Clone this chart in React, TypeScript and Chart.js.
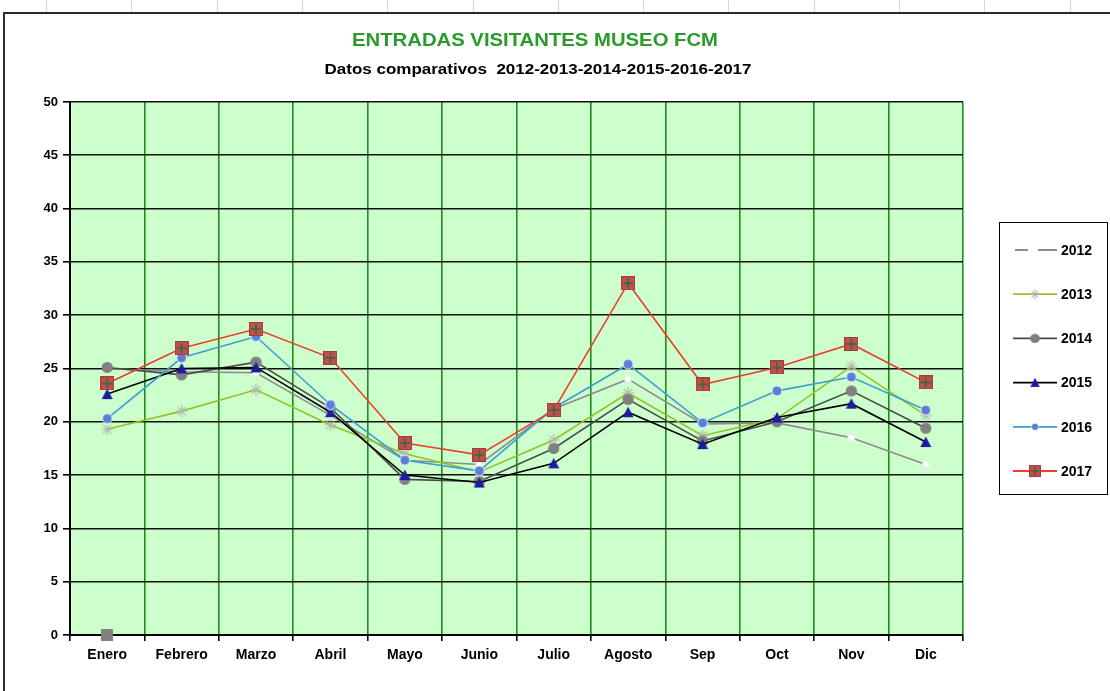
import React, { useEffect, useRef } from 'react';
import { Chart, registerables } from 'chart.js';
Chart.register(...registerables);

const months = ['Enero', 'Febrero', 'Marzo', 'Abril', 'Mayo', 'Junio', 'Julio', 'Agosto', 'Sep', 'Oct', 'Nov', 'Dic'];
const years = ['2012', '2013', '2014', '2015', '2016', '2017'];
const v2012 = [25.0, 24.7, 24.6, 20.6, 16.4, 16.0, 21.2, 24.0, 19.8, 19.9, 18.5, 16.0];
const v2013 = [19.3, 21.0, 23.0, 19.7, 17.0, 15.3, 18.3, 22.7, 18.7, 20.3, 25.2, 20.6];
const v2014 = [25.1, 24.4, 25.6, 21.3, 14.6, 14.4, 17.5, 22.1, 18.2, 20.0, 22.9, 19.4];
const v2015 = [22.6, 25.0, 25.1, 20.9, 15.0, 14.3, 16.1, 20.9, 17.9, 20.4, 21.7, 18.1];
const v2016 = [20.3, 26.0, 28.0, 21.6, 16.4, 15.4, 21.3, 25.4, 19.9, 22.9, 24.2, 21.1];
const v2017 = [23.6, 26.9, 28.7, 26.0, 18.0, 16.9, 21.1, 33.0, 23.5, 25.1, 27.3, 23.7];
const vExtra = [0, null, null, null, null, null, null, null, null, null, null, null];
const yTickValues = [0, 5, 10, 15, 20, 25, 30, 35, 40, 45, 50];

const lineColors = ['#8c8c8c', '#92c425', '#4a4a4a', '#000000', '#3a9fd0', '#e8402a'];

function mk(size: number, draw: (c: CanvasRenderingContext2D, s: number) => void) {
  const cv = document.createElement('canvas');
  cv.width = size;
  cv.height = size;
  const c = cv.getContext('2d')!;
  draw(c, size);
  return cv;
}

export default function App() {
  const ref = useRef<HTMLCanvasElement>(null);
  useEffect(() => {
    const canvas = ref.current!;
    const m2012 = mk(10, (c, s) => {
      c.beginPath(); c.arc(s / 2, s / 2, 3.5, 0, Math.PI * 2);
      c.fillStyle = '#ffffff'; c.fill();
      c.strokeStyle = '#e4e4e4'; c.lineWidth = 1; c.stroke();
    });
    const m2013 = mk(14, (c, s) => {
      c.strokeStyle = '#b4b4b4'; c.lineWidth = 1.2;
      const r = 6, h = s / 2;
      c.beginPath();
      c.moveTo(h - r, h); c.lineTo(h + r, h);
      c.moveTo(h, h - r); c.lineTo(h, h + r);
      c.moveTo(h - r * 0.7, h - r * 0.7); c.lineTo(h + r * 0.7, h + r * 0.7);
      c.moveTo(h - r * 0.7, h + r * 0.7); c.lineTo(h + r * 0.7, h - r * 0.7);
      c.stroke();
    });
    const m2014 = mk(13, (c, s) => {
      c.beginPath(); c.arc(s / 2, s / 2, 5.6, 0, Math.PI * 2);
      c.fillStyle = '#808080'; c.fill();
    });
    const m2015 = mk(12, (c, s) => {
      c.beginPath(); c.moveTo(s / 2, 0.5); c.lineTo(s - 0.5, s - 1); c.lineTo(0.5, s - 1); c.closePath();
      c.fillStyle = '#1c1ca0'; c.fill();
    });
    const m2016 = mk(12, (c, s) => {
      c.beginPath(); c.arc(s / 2, s / 2, 5, 0, Math.PI * 2);
      c.fillStyle = '#5b7fd4'; c.fill();
      c.strokeStyle = '#e8f4ff'; c.lineWidth = 1; c.stroke();
    });
    const m2017 = mk(14, (c, s) => {
      c.fillStyle = '#c0504d'; c.fillRect(0.5, 0.5, s - 1, s - 1);
      c.strokeStyle = '#a03c3a'; c.lineWidth = 1; c.strokeRect(0.5, 0.5, s - 1, s - 1);
      c.strokeStyle = '#2f6a3a'; c.lineWidth = 1.4;
      c.beginPath(); c.moveTo(s / 2, 2); c.lineTo(s / 2, s - 2); c.moveTo(2, s / 2); c.lineTo(s - 2, s / 2); c.stroke();
    });
    const mExtra = mk(12, (c, s) => { c.fillStyle = '#808080'; c.fillRect(0, 0, s, s); });
    const markers = [m2012, m2013, m2014, m2015, m2016, m2017];
    const values = [v2012, v2013, v2014, v2015, v2016, v2017];

    const datasets: any[] = years.map((y, i) => ({
      label: y,
      data: values[i],
      borderColor: lineColors[i],
      backgroundColor: lineColors[i],
      borderWidth: 1.6,
      pointStyle: markers[i],
      pointRadius: 6,
      tension: 0,
      order: 6 - i,
    }));
    datasets.push({
      label: 'extra',
      data: vExtra,
      borderColor: '#808080',
      backgroundColor: '#808080',
      pointStyle: mExtra,
      pointRadius: 6,
      showLine: false,
      clip: false,
      order: -1,
    });

    const bgPlugin = {
      id: 'bg',
      beforeDraw(chart: any) {
        const { ctx, chartArea } = chart;
        ctx.save();
        ctx.fillStyle = '#ffffff';
        ctx.fillRect(0, 0, chart.width, chart.height);
        ctx.strokeStyle = '#d6d6d6';
        ctx.lineWidth = 1;
        for (let x = 46; x < chart.width; x += 85.3) {
          ctx.beginPath(); ctx.moveTo(Math.round(x) + 0.5, 0); ctx.lineTo(Math.round(x) + 0.5, 12); ctx.stroke();
        }
        ctx.strokeStyle = '#2a2a2a';
        ctx.lineWidth = 2;
        ctx.strokeRect(4, 13, chart.width + 20, chart.height + 20);
        ctx.fillStyle = '#ccffcc';
        ctx.fillRect(chartArea.left, chartArea.top, chartArea.right - chartArea.left, chartArea.bottom - chartArea.top);
        ctx.restore();
      },
      afterDraw(chart: any) {
        const { ctx } = chart;
        ctx.save();
        const drawFit = (text: string, cx: number, cy: number, font: string, color: string, w: number) => {
          ctx.font = font;
          ctx.fillStyle = color;
          ctx.textAlign = 'center';
          ctx.textBaseline = 'middle';
          const mw = ctx.measureText(text).width;
          ctx.save();
          ctx.translate(cx, cy);
          ctx.scale(w / mw, 1);
          ctx.fillText(text, 0, 0);
          ctx.restore();
        };
        drawFit('ENTRADAS VISITANTES MUSEO FCM', 535, 41, 'bold 19px "Liberation Sans Narrow", "Liberation Sans", Arial, sans-serif', '#2a9a2a', 366);
        drawFit('Datos comparativos  2012-2013-2014-2015-2016-2017', 538, 70, 'bold 14px "Liberation Sans Narrow", "Liberation Sans", Arial, sans-serif', '#000000', 427);

        // legend
        ctx.strokeStyle = '#000';
        ctx.lineWidth = 1;
        ctx.strokeRect(999.5, 222.5, 108, 272);
        chart.data.datasets.forEach((ds: any, i: number) => {
          if (i >= years.length) return;
          const y = 250 + i * 44.2;
          ctx.strokeStyle = ds.borderColor;
          ctx.lineWidth = 1.8;
          ctx.beginPath();
          if (i === 0) {
            ctx.moveTo(1015, y); ctx.lineTo(1028, y);
            ctx.moveTo(1038, y); ctx.lineTo(1057, y);
          } else {
            ctx.moveTo(1013, y); ctx.lineTo(1057, y);
          }
          ctx.stroke();
          if (i > 0) {
            const img = ds.pointStyle as HTMLCanvasElement;
            const sc = i === 4 ? 0.7 : 0.85;
            const w = img.width * sc, h = img.height * sc;
            ctx.drawImage(img, 1035 - w / 2, y - h / 2, w, h);
          }
          ctx.fillStyle = '#000';
          ctx.font = 'bold 14px "Liberation Sans", Arial, sans-serif';
          ctx.textAlign = 'left';
          ctx.textBaseline = 'middle';
          ctx.fillText(ds.label, 1061, y + 1);
        });
        ctx.restore();
      },
    };

    const chart = new Chart(canvas, {
      type: 'line',
      data: { labels: months, datasets },
      plugins: [bgPlugin],
      options: {
        responsive: false,
        animation: false,
        devicePixelRatio: 1,
        layout: { padding: { left: 0, right: 147, top: 102, bottom: 0 } },
        plugins: {
          legend: { display: false },
          title: { display: false },
          tooltip: { enabled: false },
        },
        scales: {
          x: {
            offset: true,
            grid: { color: '#1e8c1e', lineWidth: 1.6, offset: true, tickColor: '#000', tickLength: 6, drawOnChartArea: true },
            border: { color: '#000', width: 2 },
            ticks: {
              color: '#000',
              font: { family: '"Liberation Sans", Arial, sans-serif', size: 14, weight: 'bold' },
              padding: 6,
              maxRotation: 0,
              autoSkip: false,
            },
            afterFit: (s: any) => { s.height = 56; },
          },
          y: {
            min: 0,
            max: 50,
            afterBuildTicks: (s: any) => { s.ticks = yTickValues.map((v) => ({ value: v })); },
            grid: { color: '#111', lineWidth: 1.6, tickColor: '#000', tickLength: 7 },
            border: { color: '#000', width: 2 },
            ticks: {
              color: '#000',
              font: { family: '"Liberation Sans", Arial, sans-serif', size: 13, weight: 'bold' },
              padding: 5,
            },
            afterFit: (s: any) => { s.width = 70; },
          },
        },
      } as any,
    });
    return () => chart.destroy();
  }, []);
  return (
    <div style={{ position: 'absolute', left: 0, top: 0, width: 1110, height: 691, background: '#fff' }}>
      <canvas ref={ref} width={1110} height={691} style={{ display: 'block', width: 1110, height: 691 }} />
    </div>
  );
}
